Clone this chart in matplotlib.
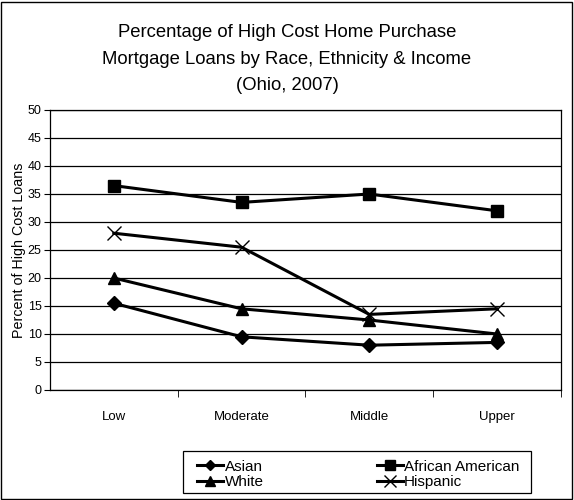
import matplotlib
matplotlib.use("Agg")
import matplotlib.pyplot as plt
from matplotlib.patches import Rectangle

plt.rcParams['font.family'] = ['Liberation Sans', 'DejaVu Sans']

categories = ["Low", "Moderate", "Middle", "Upper"]
asian = [15.5, 9.5, 8.0, 8.5]
african_american = [36.5, 33.5, 35.0, 32.0]
white = [20.0, 14.5, 12.5, 10.0]
hispanic = [28.0, 25.5, 13.5, 14.5]

fig = plt.figure(figsize=(5.74, 5.0), dpi=100)
ax = fig.add_axes([0.087, 0.22, 0.89, 0.56])

x = range(len(categories))
l1, = ax.plot(x, asian, color='black', lw=2.2, marker='D', ms=7, label='Asian')
l2, = ax.plot(x, african_american, color='black', lw=2.2, marker='s', ms=9, label='African American')
l3, = ax.plot(x, white, color='black', lw=2.2, marker='^', ms=9, label='White')
l4, = ax.plot(x, hispanic, color='black', lw=2.2, marker='x', ms=10, mew=1, label='Hispanic')

ax.set_xlim(-0.5, 3.5)
ax.set_ylim(0, 50)
ax.set_yticks(range(0, 51, 5))
ax.yaxis.grid(True, color='black', lw=0.9)
ax.set_axisbelow(True)
ax.set_xticks(list(x))
ax.set_xticklabels(categories, fontsize=9.5)
ax.set_xticks([0.5, 1.5, 2.5, 3.5], minor=True)
ax.tick_params(axis='x', which='major', length=0, pad=15)
ax.tick_params(axis='x', which='minor', length=5, direction='out')
ax.tick_params(axis='y', labelsize=9, length=4, pad=2)
for s in ax.spines.values():
    s.set_color('black')
    s.set_linewidth(0.9)
ax.set_ylabel("Percent of High Cost Loans", fontsize=10.3, labelpad=1)

fig.text(0.5, 0.882, "Percentage of High Cost Home Purchase\nMortgage Loans by Race, Ethnicity & Income\n(Ohio, 2007)",
         ha='center', va='center', fontsize=13.3, linespacing=1.7)

# legend entries without frame, box drawn separately (x 183-531, y 451-493 px)
leg = fig.legend(handles=[l1, l3, l2, l4], ncol=2, loc='center left',
                 bbox_to_anchor=(197 / 574, 1 - 474.5 / 500),
                 frameon=False, fontsize=11, handlelength=1.7, handletextpad=0.1,
                 columnspacing=7.4, labelspacing=0.1, borderpad=0, borderaxespad=0,
                 markerscale=0.8)
fig.patches.append(Rectangle((183 / 574, 7 / 500), 348 / 574, 42 / 500, transform=fig.transFigure,
                             fill=False, edgecolor='black', lw=0.9))

fig.patches.append(Rectangle((0.002, 0.002), 0.995, 0.995, transform=fig.transFigure,
                             fill=False, edgecolor='black', lw=1))

fig.savefig("out.png", dpi=100)
